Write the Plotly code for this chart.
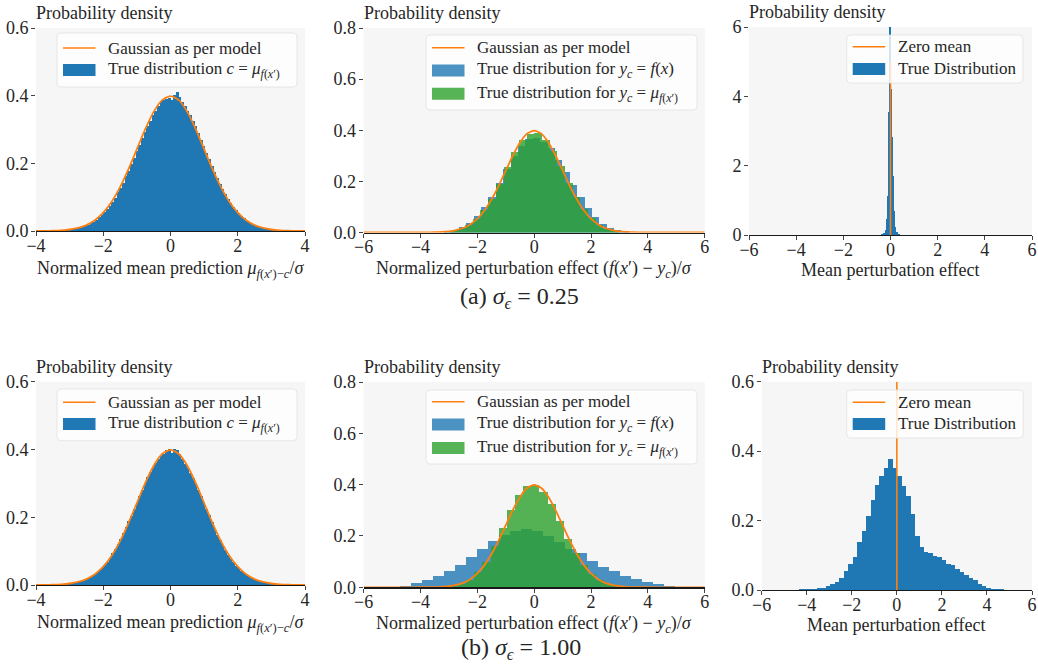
import plotly.graph_objects as go

W, H = 1038, 664

# ---------------- data ----------------
# Gaussian N(0,1) density as drawn by the orange curve
gauss_x = [-6.0, -5.5, -5.0, -4.5, -4.0, -3.75, -3.5, -3.25, -3.0, -2.75, -2.5, -2.25, -2.0,
           -1.75, -1.5, -1.25, -1.0, -0.75, -0.5, -0.25, 0.0, 0.25, 0.5, 0.75, 1.0, 1.25,
           1.5, 1.75, 2.0, 2.25, 2.5, 2.75, 3.0, 3.25, 3.5, 3.75, 4.0, 4.5, 5.0, 5.5, 6.0]
gauss_y = [0.0, 0.0, 0.0, 0.0, 0.0001, 0.0004, 0.0009, 0.0020, 0.0044, 0.0091, 0.0175, 0.0317,
           0.0540, 0.0863, 0.1295, 0.1826, 0.2420, 0.3011, 0.3521, 0.3867, 0.3989, 0.3867,
           0.3521, 0.3011, 0.2420, 0.1826, 0.1295, 0.0863, 0.0540, 0.0317, 0.0175, 0.0091,
           0.0044, 0.0020, 0.0009, 0.0004, 0.0001, 0.0, 0.0, 0.0, 0.0]

# (a) sigma_eps = 0.25, left: normalized mean prediction histogram
a_left_start, a_left_width = -3.6, 0.08
a_left_vals = [0.001, 0.001, 0.001, 0.002, 0.002, 0.002, 0.003, 0.004, 0.005, 0.006,
               0.008, 0.010, 0.012, 0.015, 0.019, 0.023, 0.027, 0.033, 0.040, 0.046,
               0.055, 0.064, 0.075, 0.087, 0.099, 0.114, 0.128, 0.143, 0.162, 0.178,
               0.198, 0.216, 0.236, 0.254, 0.274, 0.292, 0.309, 0.326, 0.342, 0.355,
               0.368, 0.385, 0.388, 0.390, 0.392, 0.388, 0.403, 0.412, 0.395, 0.382,
               0.368, 0.356, 0.342, 0.326, 0.309, 0.290, 0.270, 0.252, 0.232, 0.212,
               0.193, 0.175, 0.156, 0.140, 0.124, 0.109, 0.095, 0.083, 0.072, 0.061,
               0.052, 0.044, 0.037, 0.031, 0.026, 0.021, 0.017, 0.014, 0.011, 0.009,
               0.007, 0.006, 0.004, 0.003, 0.003, 0.002, 0.002, 0.001, 0.001, 0.001]

# (a) middle: perturbation effect, y_c = f(x) (blue) and y_c = mu (green)
a_mid_blue_start, a_mid_blue_width = -3.17, 0.26
a_mid_blue_vals = [0.005, 0.01, 0.02, 0.037, 0.065, 0.10, 0.14, 0.195, 0.25, 0.30, 0.34,
                   0.365, 0.37, 0.355, 0.33, 0.285, 0.235, 0.185, 0.138, 0.095, 0.06,
                   0.035, 0.018, 0.009, 0.004]
a_mid_green_start, a_mid_green_width = -2.97, 0.27
a_mid_green_vals = [0.006, 0.014, 0.03, 0.053, 0.088, 0.133, 0.19, 0.255, 0.315, 0.36,
                    0.385, 0.388, 0.362, 0.32, 0.26, 0.195, 0.137, 0.09, 0.055, 0.03,
                    0.015, 0.006]

# (a) right: mean perturbation effect
a_right_start, a_right_width = -0.6, 0.05
a_right_vals = [0.005, 0.005, 0.01, 0.01, 0.015, 0.02, 0.06, 0.14, 0.45, 1.12, 3.55, 6.5,
                4.2, 2.83, 1.70, 0.70, 0.24, 0.08, 0.03, 0.015, 0.01, 0.005]
a_zero_line_top = 5.0

# (b) sigma_eps = 1.00, left
b_left_start, b_left_width = -3.6, 0.08
b_left_vals = [0.001, 0.001, 0.001, 0.001, 0.002, 0.003, 0.003, 0.004, 0.006, 0.007,
               0.009, 0.011, 0.014, 0.017, 0.021, 0.026, 0.031, 0.036, 0.043, 0.050,
               0.059, 0.069, 0.081, 0.093, 0.106, 0.122, 0.137, 0.153, 0.170, 0.189,
               0.205, 0.224, 0.243, 0.263, 0.280, 0.299, 0.318, 0.334, 0.346, 0.360,
               0.372, 0.382, 0.388, 0.398, 0.400, 0.391, 0.400, 0.398, 0.386, 0.373,
               0.358, 0.345, 0.330, 0.315, 0.297, 0.280, 0.262, 0.244, 0.225, 0.207,
               0.187, 0.166, 0.148, 0.132, 0.117, 0.102, 0.089, 0.078, 0.067, 0.057,
               0.049, 0.041, 0.035, 0.029, 0.024, 0.020, 0.016, 0.013, 0.011, 0.009,
               0.007, 0.005, 0.004, 0.003, 0.003, 0.002, 0.001, 0.001, 0.001, 0.001]

# (b) middle
b_mid_blue_start, b_mid_blue_width = -5.48, 0.387
b_mid_blue_vals = [0.002, 0.003, 0.007, 0.016, 0.027, 0.043, 0.062, 0.086, 0.117, 0.148,
                   0.18, 0.203, 0.219, 0.227, 0.219, 0.20, 0.176, 0.15, 0.133, 0.101,
                   0.078, 0.062, 0.046, 0.031, 0.02, 0.012, 0.007, 0.003]
b_mid_green_start, b_mid_green_width = -2.97, 0.2865
b_mid_green_vals = [0.005, 0.012, 0.027, 0.058, 0.10, 0.16, 0.23, 0.30, 0.36, 0.395, 0.40,
                    0.37, 0.325, 0.258, 0.19, 0.133, 0.086, 0.05, 0.027, 0.012, 0.005]

# (b) right
b_right_start, b_right_width = -4.734, 0.198
b_right_vals = [0.001, 0.001, 0.002, 0.002, 0.002, 0.003, 0.005, 0.007, 0.011, 0.017,
                0.022, 0.034, 0.056, 0.075, 0.095, 0.138, 0.17, 0.213, 0.259, 0.303,
                0.328, 0.35, 0.378, 0.352, 0.327, 0.30, 0.271, 0.218, 0.156, 0.124,
                0.11, 0.106, 0.099, 0.095, 0.085, 0.076, 0.072, 0.061, 0.051, 0.042,
                0.036, 0.028, 0.018, 0.011, 0.006, 0.004, 0.002, 0.002, 0.001]
b_zero_line_top = 0.6

x_ticks_lr = [-4, -2, 0, 2, 4]
x_ticks_wide = [-6, -4, -2, 0, 2, 4, 6]
y_ticks_06 = [0.0, 0.2, 0.4, 0.6]
y_ticks_08 = [0.0, 0.2, 0.4, 0.6, 0.8]
y_ticks_6 = [0, 2, 4, 6]

# ---------------- styling ----------------
BLUE = "#1f77b4"
BLUE_A = "rgba(31,119,180,0.8)"
GREEN_A = "rgba(44,160,44,0.8)"
ORANGE = "#ff7f0e"
FONT = "Liberation Serif"
TXT = "#262626"
FS = 17        # legend text
FS_TICK = 18
FS_TITLE = 18
FS_YLAB = 18
FS_CAP = 24


def X(p):
    return p / W


def Y(p):
    return 1 - p / H


def centers(start, width, vals):
    return [start + width * (i + 0.5) for i in range(len(vals))]


fig = go.Figure()


def bars(n, start, width, vals, color):
    fig.add_trace(go.Bar(x=centers(start, width, vals), y=vals, width=width,
                         marker=dict(color=color, line=dict(width=0)),
                         xaxis=f"x{n}", yaxis=f"y{n}", showlegend=False))


def line(n, xs, ys, width=1.6):
    fig.add_trace(go.Scatter(x=xs, y=ys, mode="lines",
                             line=dict(color=ORANGE, width=width, shape="spline", smoothing=0.6),
                             xaxis=f"x{n}", yaxis=f"y{n}", showlegend=False))


# panel 1
bars(1, a_left_start, a_left_width, a_left_vals, BLUE)
line(1, gauss_x, gauss_y, 1.8)
# panel 2
bars(2, a_mid_blue_start, a_mid_blue_width, a_mid_blue_vals, BLUE_A)
bars(2, a_mid_green_start, a_mid_green_width, a_mid_green_vals, GREEN_A)
line(2, gauss_x, gauss_y, 1.8)
# panel 3
bars(3, a_right_start, a_right_width, a_right_vals, BLUE)
fig.add_trace(go.Scatter(x=[0, 0], y=[0, a_zero_line_top], mode="lines",
                         line=dict(color=ORANGE, width=1.6), xaxis="x3", yaxis="y3",
                         showlegend=False))
# panel 4
bars(4, b_left_start, b_left_width, b_left_vals, BLUE)
line(4, gauss_x, gauss_y, 1.8)
# panel 5
bars(5, b_mid_blue_start, b_mid_blue_width, b_mid_blue_vals, BLUE_A)
bars(5, b_mid_green_start, b_mid_green_width, b_mid_green_vals, GREEN_A)
line(5, gauss_x, gauss_y, 1.8)
# panel 6
bars(6, b_right_start, b_right_width, b_right_vals, BLUE)
fig.add_trace(go.Scatter(x=[0, 0], y=[0, b_zero_line_top], mode="lines",
                         line=dict(color=ORANGE, width=1.6), xaxis="x6", yaxis="y6",
                         showlegend=False))

# plot areas in pixels: (left, right, top, bottom)
areas = {
    1: (36, 305, 28, 231),
    2: (363.7, 704.7, 28, 232.5),
    3: (749, 1032, 27, 235),
    4: (36, 305, 381.7, 585),
    5: (363.7, 704.7, 382, 587.3),
    6: (761.7, 1032, 381.7, 590),
}
xranges = {1: [-4, 4], 2: [-6, 6], 3: [-6, 6], 4: [-4, 4], 5: [-6, 6], 6: [-6, 6]}
xticks = {1: x_ticks_lr, 2: x_ticks_wide, 3: x_ticks_wide, 4: x_ticks_lr, 5: x_ticks_wide,
          6: x_ticks_wide}
yranges = {1: [0, 0.6], 2: [0, 0.8], 3: [0, 6], 4: [0, 0.6], 5: [0, 0.8], 6: [0, 0.6]}
yticks = {1: y_ticks_06, 2: y_ticks_08, 3: y_ticks_6, 4: y_ticks_06, 5: y_ticks_08,
          6: y_ticks_06}
yfmt = {1: ".1f", 2: ".1f", 3: "d", 4: ".1f", 5: ".1f", 6: ".1f"}

layout = {}
for n, (l, r, t, b) in areas.items():
    layout[f"xaxis{n}"] = dict(
        domain=[X(l), X(r)], anchor=f"y{n}", range=xranges[n], tickvals=xticks[n],
        showline=True, linecolor="#1a1a1a", linewidth=1.3, ticks="outside", ticklen=4,
        tickwidth=1, tickcolor="#444", showgrid=False, zeroline=False, automargin=False,
        ticklabelstandoff=-6,
        tickfont=dict(family=FONT, size=FS_TICK, color=TXT), fixedrange=True)
    layout[f"yaxis{n}"] = dict(
        domain=[Y(b), Y(t)], anchor=f"x{n}", range=yranges[n], tickvals=yticks[n],
        tickformat=yfmt[n], showline=False, ticks="outside", ticklen=4, tickwidth=1,
        tickcolor="#444", showgrid=False, zeroline=False, automargin=False,
        ticklabelstandoff=-1,
        tickfont=dict(family=FONT, size=FS_TICK, color=TXT), fixedrange=True)

annotations = []
shapes = []


def text(x, y, s, size=FS, xanchor="left", font=FONT):
    annotations.append(dict(x=X(x), y=Y(y), xref="paper", yref="paper", text=s,
                            showarrow=False, xanchor=xanchor, yanchor="middle",
                            borderpad=0, font=dict(family=font, size=size, color=TXT)))


# y labels above each plot
for n, (l, r, t, b) in areas.items():
    text(l - 1, t - 15, "Probability density", size=FS_YLAB)

xt_left = "Normalized mean prediction <i>μ</i><sub><i>f</i>(<i>x</i>′)−<i>c</i></sub>/<i>σ</i>"
xt_mid = "Normalized perturbation effect (<i>f</i>(<i>x</i>′) − <i>y</i><sub><i>c</i></sub>)/<i>σ</i>"
xt_right = "Mean perturbation effect"
text(170.5, 270, xt_left, size=FS_TITLE, xanchor="center")
text(534, 270, xt_mid, size=FS_TITLE, xanchor="center")
text(890, 270, xt_right, size=FS_TITLE, xanchor="center")
text(170.5, 623, xt_left, size=FS_TITLE, xanchor="center")
text(534, 624, xt_mid, size=FS_TITLE, xanchor="center")
text(896.7, 625, xt_right, size=FS_TITLE, xanchor="center")

# captions
text(519.5, 298, "(a) <i>σ</i><sub><i>ϵ</i></sub> = 0.25", size=FS_CAP, xanchor="center")
text(521, 649, "(b) <i>σ</i><sub><i>ϵ</i></sub> = 1.00", size=FS_CAP, xanchor="center")


def rounded_box(x0, y0, x1, y1, r=4):
    p = (f"M {X(x0 + r)},{Y(y0)} L {X(x1 - r)},{Y(y0)} Q {X(x1)},{Y(y0)} {X(x1)},{Y(y0 + r)} "
         f"L {X(x1)},{Y(y1 - r)} Q {X(x1)},{Y(y1)} {X(x1 - r)},{Y(y1)} "
         f"L {X(x0 + r)},{Y(y1)} Q {X(x0)},{Y(y1)} {X(x0)},{Y(y1 - r)} "
         f"L {X(x0)},{Y(y0 + r)} Q {X(x0)},{Y(y0)} {X(x0 + r)},{Y(y0)} Z")
    shapes.append(dict(type="path", path=p, xref="paper", yref="paper",
                       fillcolor="rgba(255,255,255,0.8)",
                       line=dict(color="rgba(225,225,225,0.8)", width=1), layer="above"))


def legend(box, entries):
    x0, y0, x1, y1 = box
    rounded_box(x0, y0, x1, y1)
    sx0, sx1, tx = x0 + 6, x0 + 38.5, x0 + 50
    for kind, color, yc, label in entries:
        if kind == "line":
            shapes.append(dict(type="line", xref="paper", yref="paper", x0=X(sx0), x1=X(sx1),
                               y0=Y(yc), y1=Y(yc), line=dict(color=color, width=1.6),
                               layer="above"))
        else:
            shapes.append(dict(type="rect", xref="paper", yref="paper", x0=X(sx0), x1=X(sx1),
                               y0=Y(yc + 6), y1=Y(yc - 6), fillcolor=color,
                               line=dict(width=0), layer="above"))
        text(tx, yc, label)


lab_gauss = "Gaussian as per model"
lab_true_c = "True distribution <i>c</i> = <i>μ</i><sub><i>f</i>(<i>x</i>′)</sub>"
lab_true_f = "True distribution for <i>y</i><sub><i>c</i></sub> = <i>f</i>(<i>x</i>)"
lab_true_mu = "True distribution for <i>y</i><sub><i>c</i></sub> = <i>μ</i><sub><i>f</i>(<i>x</i>′)</sub>"

legend((57, 33, 297, 87), [("line", ORANGE, 48, lab_gauss), ("patch", BLUE, 70, lab_true_c)])
legend((426, 35, 697, 110), [("line", ORANGE, 47.7, lab_gauss),
                             ("patch", BLUE_A, 70.5, lab_true_f),
                             ("patch", GREEN_A, 93.7, lab_true_mu)])
legend((846.7, 35, 1023, 83), [("line", ORANGE, 46.7, "Zero mean"),
                               ("patch", BLUE, 69, "True Distribution")])
legend((57, 389, 297, 440.7), [("line", ORANGE, 402.3, lab_gauss),
                               ("patch", BLUE, 424, lab_true_c)])
legend((426, 390, 697, 464), [("line", ORANGE, 401.7, lab_gauss),
                              ("patch", BLUE_A, 424.5, lab_true_f),
                              ("patch", GREEN_A, 448, lab_true_mu)])
legend((846.7, 390, 1023.3, 438), [("line", ORANGE, 402.3, "Zero mean"),
                                   ("patch", BLUE, 424, "True Distribution")])

fig.update_layout(
    width=W, height=H, margin=dict(l=0, r=0, t=0, b=0, pad=0, autoexpand=False),
    paper_bgcolor="white", plot_bgcolor="#f6f6f6", barmode="overlay", bargap=0,
    showlegend=False, font=dict(family=FONT, size=FS, color=TXT),
    annotations=annotations, shapes=shapes, **layout)

fig.write_html("out.html", config={"displayModeBar": False, "staticPlot": True})
